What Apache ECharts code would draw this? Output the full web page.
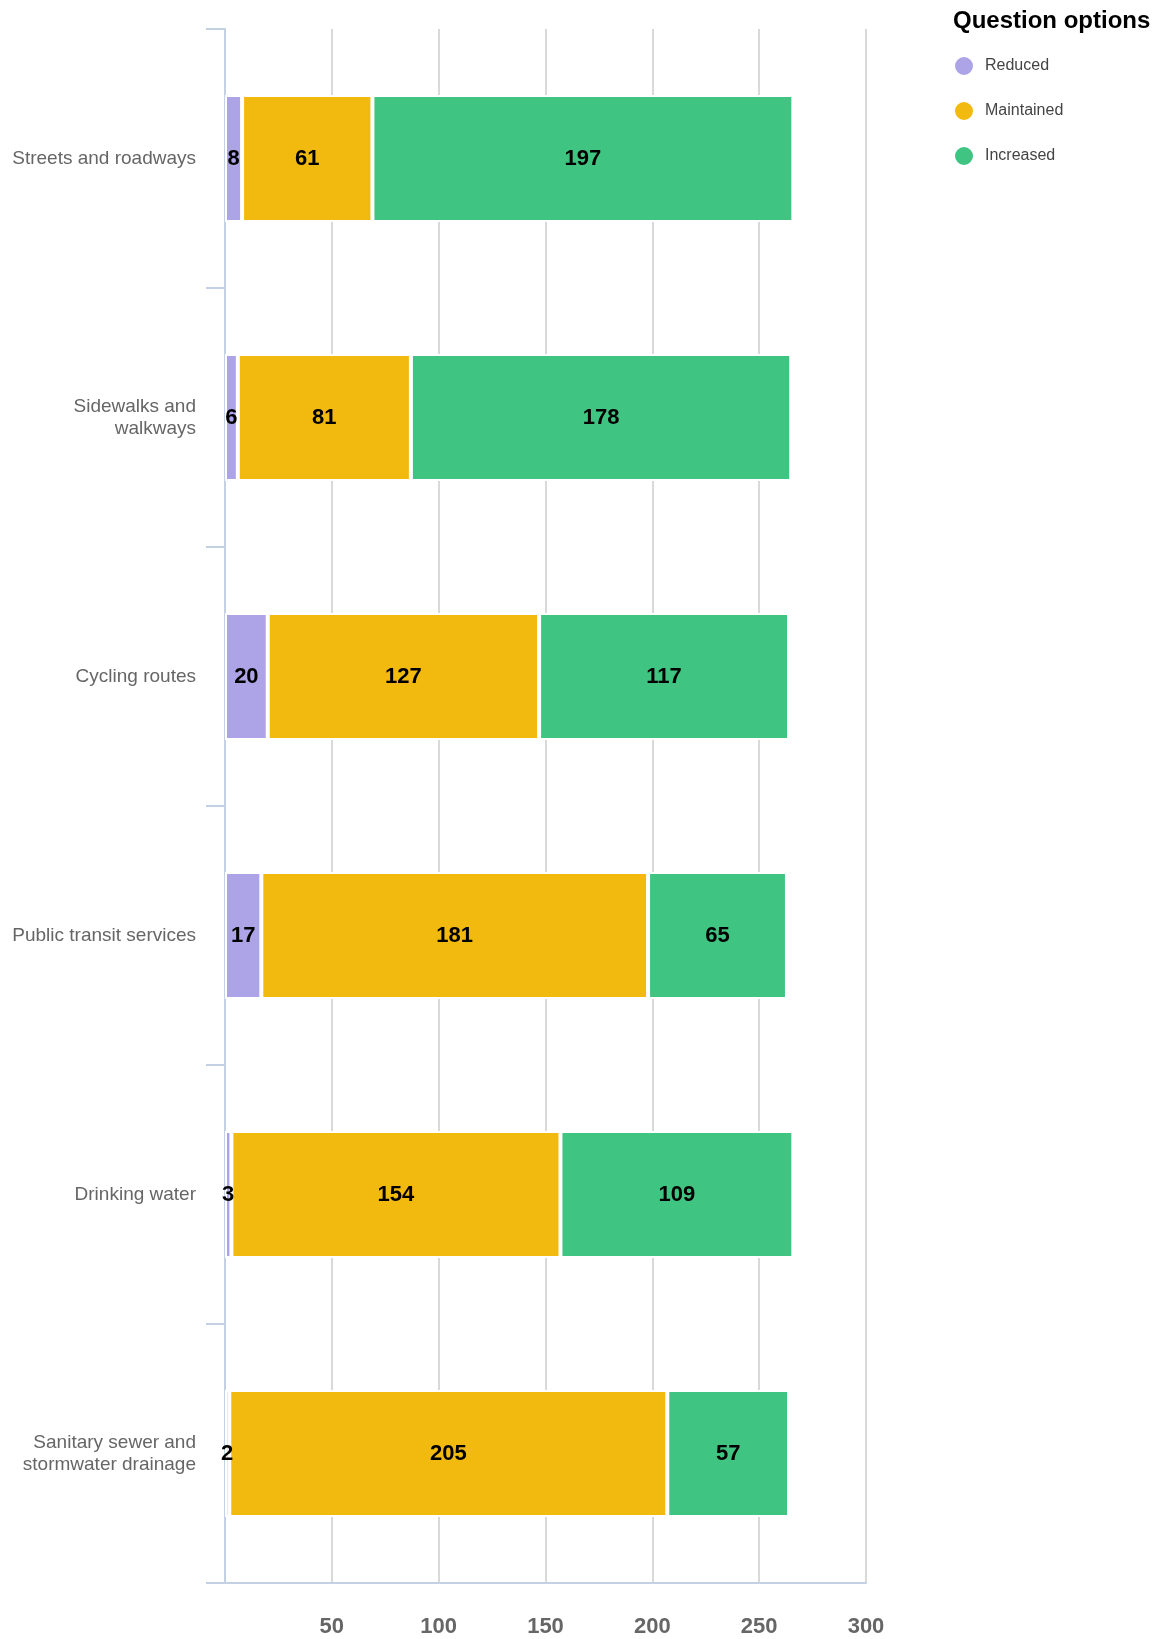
<!DOCTYPE html>
<html>
<head>
<meta charset="utf-8">
<script src="https://cdn.jsdelivr.net/npm/echarts@6/dist/echarts.min.js"></script>
<style>
html,body{margin:0;padding:0;background:#fff;}
#chart{width:1156px;height:1639px;}
</style>
</head>
<body>
<div id="chart"></div>
<script>
var categories = ['Streets and roadways', 'Sidewalks and\nwalkways', 'Cycling routes', 'Public transit services', 'Drinking water', 'Sanitary sewer and\nstormwater drainage'];
var seriesNames = ['Reduced', 'Maintained', 'Increased'];
var reduced = [8, 6, 20, 17, 3, 2];
var maintained = [61, 81, 127, 181, 154, 205];
var increased = [197, 178, 117, 65, 109, 57];
var xTicks = [50, 100, 150, 200, 250, 300];
var colors = ['#aca4e6', '#f2b90e', '#3fc482'];

var FONT = '"Liberation Sans", Arial, Helvetica, sans-serif';
var chart = echarts.init(document.getElementById('chart'), null, {renderer: 'canvas'});

function mkSeries(name, data, color) {
  return {
    name: name,
    type: 'bar',
    stack: 'total',
    barWidth: '49%',
    data: data,
    itemStyle: {color: color, borderColor: '#ffffff', borderWidth: 2},
    label: {
      show: true,
      position: 'inside',
      color: '#000',
      fontFamily: FONT,
      fontWeight: 'bold',
      fontSize: 22
    },
    emphasis: {disabled: true}
  };
}

chart.setOption({
  animation: false,
  title: {
    text: 'Question options',
    left: 953,
    top: 9,
    padding: 0,
    textStyle: {fontFamily: FONT, fontWeight: 'bold', fontSize: 24, color: '#000'}
  },
  legend: {
    orient: 'vertical',
    left: 953,
    top: 55,
    padding: 0,
    icon: 'circle',
    itemWidth: 20,
    itemHeight: 20,
    itemGap: 23,
    data: seriesNames,
    textStyle: {fontFamily: FONT, fontSize: 16, color: '#444', padding: [0, 0, 0, 6]}
  },
  grid: {left: 225, right: 290, top: 29, bottom: 56, containLabel: false},
  xAxis: {
    type: 'value',
    min: 0,
    max: xTicks[xTicks.length - 1],
    interval: xTicks[1] - xTicks[0],
    axisLine: {show: true, lineStyle: {color: '#c4d1e2', width: 2}},
    axisTick: {show: false},
    splitLine: {show: true, lineStyle: {color: '#d9d9d9', width: 2}},
    axisLabel: {
      margin: 33,
      fontFamily: FONT,
      fontWeight: 'bold',
      fontSize: 22,
      color: '#666',
      formatter: function (v) { return xTicks.indexOf(v) >= 0 ? String(v) : ''; }
    }
  },
  yAxis: {
    type: 'category',
    inverse: true,
    data: categories,
    axisLine: {show: true, lineStyle: {color: '#c4d1e2', width: 2}},
    axisTick: {show: true, length: 19, lineStyle: {color: '#c4d1e2', width: 2}},
    axisLabel: {
      margin: 29,
      fontFamily: FONT,
      fontSize: 19,
      lineHeight: 22,
      color: '#666',
      align: 'right'
    }
  },
  series: [
    mkSeries(seriesNames[0], reduced, colors[0]),
    mkSeries(seriesNames[1], maintained, colors[1]),
    mkSeries(seriesNames[2], increased, colors[2])
  ]
});
</script>
</body>
</html>
